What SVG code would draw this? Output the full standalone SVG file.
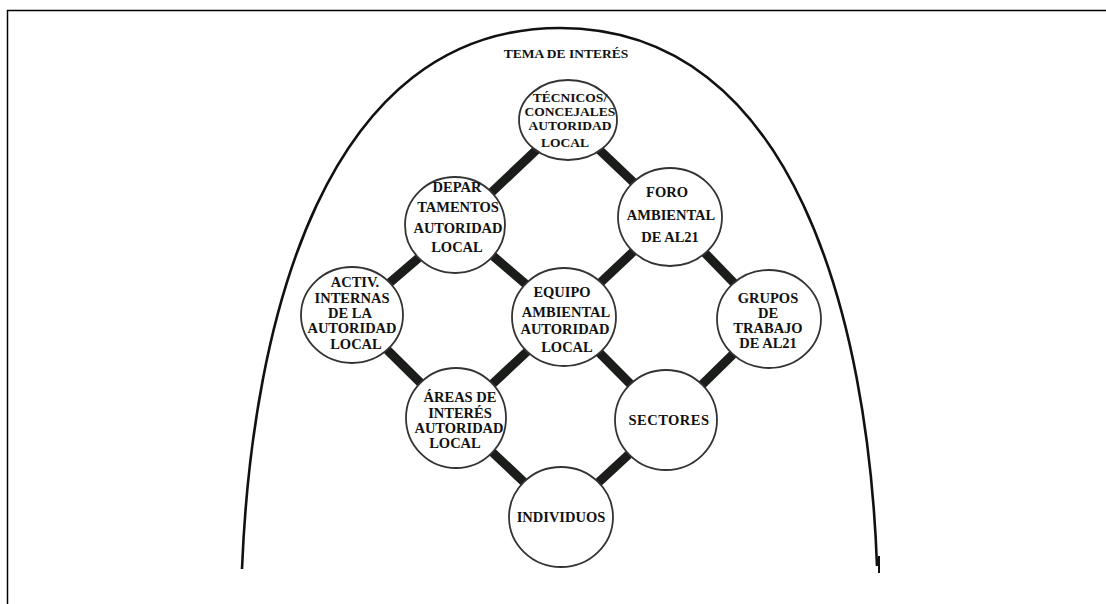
<svg xmlns="http://www.w3.org/2000/svg" width="1106" height="604" viewBox="0 0 1106 604">
<style>
.frame{fill:none;stroke:#000;stroke-width:1.5}
.arch{fill:none;stroke:#111;stroke-width:2.6}
.conn{stroke:#1b1d1b;stroke-width:9;stroke-linecap:butt}
.node{fill:#fff;stroke:#333;stroke-width:1.8}
text{font-family:"Liberation Serif","Times New Roman",serif;font-weight:bold;font-size:14.5px;fill:#111;text-anchor:middle}
.title{font-size:13.5px}
.sm{font-size:13.5px}
</style>
<rect width="1106" height="604" fill="#fff"/>
<path class="frame" d="M7.5 604 V10.5 H1106"/>
<g id="arch">
<path class="arch" d="M242 569 C252 320 325 28 560 28 C795 28 868 320 877 566"/>
<line x1="879" y1="556" x2="879" y2="573" stroke="#111" stroke-width="2"/>
<text class="title" x="566" y="58">TEMA DE INTERÉS</text>
</g>
<g id="connectors">
<line class="conn" x1="568" y1="120" x2="457" y2="225"/>
<line class="conn" x1="568" y1="120" x2="670" y2="217"/>
<line class="conn" x1="457" y1="225" x2="352" y2="315"/>
<line class="conn" x1="457" y1="225" x2="564" y2="317"/>
<line class="conn" x1="670" y1="217" x2="564" y2="317"/>
<line class="conn" x1="670" y1="217" x2="769" y2="319"/>
<line class="conn" x1="352" y1="315" x2="456" y2="418"/>
<line class="conn" x1="564" y1="317" x2="456" y2="418"/>
<line class="conn" x1="564" y1="317" x2="666" y2="420"/>
<line class="conn" x1="769" y1="319" x2="666" y2="420"/>
<line class="conn" x1="456" y1="418" x2="561" y2="517"/>
<line class="conn" x1="666" y1="420" x2="561" y2="517"/>
</g>
<g id="tecnicos">
<ellipse class="node" cx="568" cy="120" rx="49" ry="40"/>
<text class="sm" x="570" y="102">TÉCNICOS/</text>
<text class="sm" x="570" y="116">CONCEJALES</text>
<text class="sm" x="570" y="130">AUTORIDAD</text>
<text class="sm" x="565" y="147">LOCAL</text>
</g>
<g id="departamentos">
<ellipse class="node" cx="455" cy="225" rx="50" ry="48"/>
<text x="457" y="192">DEPAR</text>
<text x="458" y="212">TAMENTOS</text>
<text x="458" y="233">AUTORIDAD</text>
<text x="457" y="252">LOCAL</text>
</g>
<g id="foro">
<ellipse class="node" cx="670" cy="217" rx="52" ry="49"/>
<text x="667" y="197">FORO</text>
<text x="671" y="220">AMBIENTAL</text>
<text x="670" y="242">DE AL21</text>
</g>
<g id="activ">
<ellipse class="node" cx="352" cy="315" rx="51" ry="48"/>
<text x="355" y="287">ACTIV.</text>
<text x="352" y="303">INTERNAS</text>
<text x="350" y="318">DE LA</text>
<text x="352" y="333">AUTORIDAD</text>
<text x="356" y="349">LOCAL</text>
</g>
<g id="equipo">
<ellipse class="node" cx="564" cy="317" rx="52" ry="49"/>
<text x="562" y="297">EQUIPO</text>
<text x="566" y="317">AMBIENTAL</text>
<text x="565" y="334">AUTORIDAD</text>
<text x="567" y="352">LOCAL</text>
</g>
<g id="grupos">
<ellipse class="node" cx="769" cy="319" rx="52" ry="49"/>
<text x="768" y="303">GRUPOS</text>
<text x="768" y="318">DE</text>
<text x="768" y="333">TRABAJO</text>
<text x="768" y="348">DE AL21</text>
</g>
<g id="areas">
<ellipse class="node" cx="456" cy="418" rx="50" ry="50"/>
<text x="460" y="402">ÁREAS DE</text>
<text x="460" y="418">INTERÉS</text>
<text x="459" y="433">AUTORIDAD</text>
<text x="455" y="448">LOCAL</text>
</g>
<g id="sectores">
<ellipse class="node" cx="666" cy="420" rx="51" ry="50"/>
<text x="669" y="425" letter-spacing="0.5">SECTORES</text>
</g>
<g id="individuos">
<ellipse class="node" cx="561" cy="517" rx="52" ry="50"/>
<text x="561" y="522">INDIVIDUOS</text>
</g>
</svg>
